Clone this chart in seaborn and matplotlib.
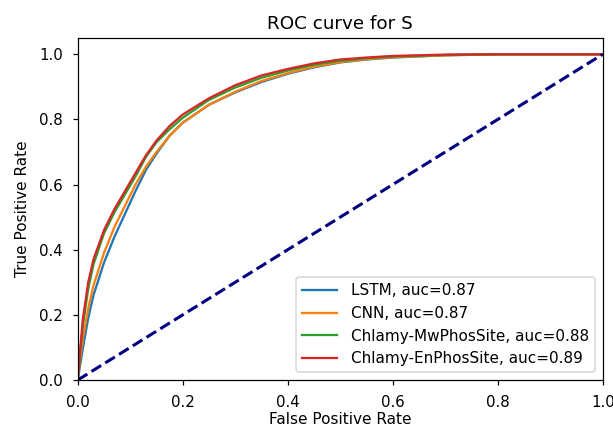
import pandas as pd
import seaborn as sns
import matplotlib
matplotlib.use('Agg')
import matplotlib.pyplot as plt

# values
fpr = [0, 0.005, 0.01, 0.02, 0.03, 0.05, 0.07, 0.09, 0.11, 0.13, 0.15, 0.175,
       0.2, 0.25, 0.3, 0.35, 0.4, 0.45, 0.5, 0.55, 0.6, 0.7, 0.8, 1.0]
tpr_lstm = [0, 0.05, 0.10, 0.19, 0.26, 0.36, 0.44, 0.51, 0.58, 0.645, 0.695, 0.75,
            0.79, 0.845, 0.883, 0.915, 0.94, 0.96, 0.975, 0.984, 0.99, 0.997, 1.0, 1.0]
tpr_cnn = [0, 0.07, 0.13, 0.22, 0.29, 0.39, 0.47, 0.535, 0.6, 0.655, 0.7, 0.75,
           0.79, 0.845, 0.885, 0.918, 0.942, 0.962, 0.976, 0.985, 0.991, 0.997, 1.0, 1.0]
tpr_mw = [0, 0.09, 0.17, 0.28, 0.355, 0.45, 0.515, 0.57, 0.625, 0.685, 0.73, 0.77,
          0.805, 0.86, 0.898, 0.928, 0.95, 0.968, 0.98, 0.988, 0.993, 0.998, 1.0, 1.0]
tpr_en = [0, 0.10, 0.19, 0.30, 0.37, 0.46, 0.525, 0.58, 0.635, 0.69, 0.735, 0.78,
          0.815, 0.865, 0.905, 0.935, 0.955, 0.972, 0.984, 0.99, 0.995, 0.999, 1.0, 1.0]

labels = ['LSTM, auc=0.87', 'CNN, auc=0.87',
          'Chlamy-MwPhosSite, auc=0.88', 'Chlamy-EnPhosSite, auc=0.89']
colors = ['#1f77b4', '#ff7f0e', '#2ca02c', '#d62728']
chance = [0, 1]

fig = plt.figure(figsize=(613 / 110, 433 / 110), dpi=110)
ax = fig.add_axes([0.1268, 0.1224, 0.8564, 0.7898])

for tpr, lab, col in zip([tpr_lstm, tpr_cnn, tpr_mw, tpr_en], labels, colors):
    df = pd.DataFrame({'fpr': fpr, 'tpr': tpr})
    sns.lineplot(data=df, x='fpr', y='tpr', color=col, label=lab, sort=False,
                 estimator=None, ax=ax, lw=1.5)

sns.lineplot(x=chance, y=chance, color='navy', linestyle='--', lw=2, legend=False, ax=ax)

ax.set_xlim(0.0, 1.0)
ax.set_ylim(0.0, 1.05)
ax.tick_params(labelsize=9.8, pad=6.5, length=3.2)
ax.set_xlabel('False Positive Rate', labelpad=1.5)
ax.set_ylabel('True Positive Rate', labelpad=6)
ax.set_title('ROC curve for S')
ax.legend(loc='lower right', handlelength=2.3, handletextpad=0.9)

fig.savefig('out.png', dpi=110)
